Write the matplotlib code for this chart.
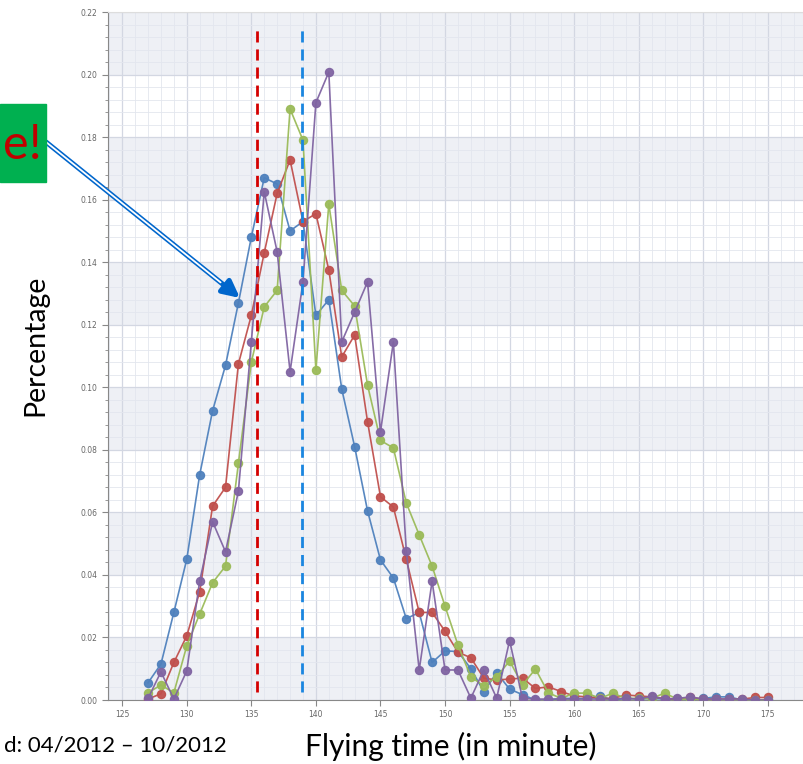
import numpy as np
import matplotlib
matplotlib.use("Agg")
import matplotlib.pyplot as plt
from matplotlib.patches import Rectangle

# flying time in minutes
t = np.arange(127, 176)

blue = [0.0055, 0.0115, 0.028, 0.045, 0.072, 0.0925, 0.107, 0.127, 0.148, 0.167,
        0.165, 0.150, 0.153, 0.123, 0.128, 0.0995, 0.081, 0.0605, 0.0448, 0.039,
        0.026, 0.028, 0.012, 0.0157, 0.0155, 0.010, 0.0027, 0.0087, 0.0035, 0.0017,
        0.0, 0.0, 0.0005, 0.0005, 0.0005, 0.0013, 0.0, 0.0005, 0.0003, 0.0005,
        0.0003, 0.0, 0.0, 0.0005, 0.001, 0.001, 0.0, 0.0, 0.0]
red = [0.0003, 0.002, 0.012, 0.0205, 0.0346, 0.062, 0.068, 0.1075, 0.123, 0.143,
       0.162, 0.1727, 0.153, 0.1555, 0.1375, 0.1097, 0.1167, 0.089, 0.065, 0.0617,
       0.045, 0.028, 0.028, 0.022, 0.0153, 0.0135, 0.007, 0.0064, 0.0067, 0.007,
       0.0037, 0.0042, 0.0027, 0.0013, 0.001, 0.0005, 0.0005, 0.0016, 0.0013, 0.001,
       0.0005, 0.0003, 0.0008, 0.0003, 0.0003, 0.0003, 0.0003, 0.0008, 0.0008]
green = [0.0023, 0.0048, 0.0023, 0.0173, 0.0275, 0.0375, 0.0428, 0.0757, 0.108, 0.1257,
         0.131, 0.189, 0.179, 0.1055, 0.1586, 0.131, 0.126, 0.1007, 0.083, 0.0806,
         0.063, 0.0528, 0.0428, 0.030, 0.0176, 0.0074, 0.0045, 0.0074, 0.0125, 0.0048,
         0.0099, 0.0023, 0.0005, 0.0022, 0.0022, 0.0005, 0.0022, 0.0005, 0.0005, 0.0005,
         0.0022, 0.0003, 0.0003, 0.0, 0.0, 0.0, 0.0, 0.0, 0.0]
purple = [0.0005, 0.009, 0.0003, 0.0093, 0.038, 0.057, 0.0474, 0.0668, 0.1145, 0.1625,
          0.1433, 0.105, 0.1337, 0.191, 0.2008, 0.1145, 0.124, 0.1337, 0.0857, 0.1145,
          0.0477, 0.0096, 0.038, 0.0096, 0.0096, 0.0006, 0.0096, 0.0006, 0.019, 0.0005,
          0.0003, 0.0003, 0.0003, 0.0003, 0.0003, 0.0003, 0.0003, 0.0005, 0.0003, 0.0012,
          0.0003, 0.0005, 0.001, 0.0003, 0.0003, 0.0003, 0.0003, 0.0, 0.0]

series = [(blue, "#4F81BD"), (red, "#C0504D"), (green, "#9BBB59"), (purple, "#8064A2")]

# reference lines (minutes)
red_line = 135.45
blue_line = 138.93

slide_font = "Lato"

fig = plt.figure(figsize=(8.04, 7.64), dpi=100)
ax = fig.add_axes([108/804, 1-700/764, 1-108/804, 688/764])

ax.set_xlim(123.9, 177.8)
ax.set_ylim(0, 0.22)

# alternating bands
for y0 in np.arange(0, 0.22, 0.04):
    ax.axhspan(y0, y0+0.02, color="#EEF0F5", zorder=0, lw=0)

ax.set_xticks(np.arange(125, 176, 5))
ax.set_xticks(np.arange(124, 178, 1), minor=True)
ax.set_yticks(np.arange(0, 0.221, 0.02))
ax.set_yticks(np.arange(0, 0.221, 0.004), minor=True)
ax.set_yticklabels(["{:0.2f}".format(v) for v in np.arange(0, 0.221, 0.02)])
ax.grid(which="major", color="#D3D7E2", lw=0.9, zorder=1)
ax.grid(which="minor", color="#E3E6EE", lw=0.6, zorder=1)
ax.set_axisbelow(True)
ax.tick_params(which="both", labelsize=5.5, labelcolor="#666666", color="#888888")
ax.tick_params(which="major", length=4)
ax.tick_params(axis="y", which="minor", length=2)
ax.tick_params(axis="x", which="minor", length=0)
ax.spines["right"].set_visible(False)
ax.spines["top"].set_color("#DDDDDD")
ax.spines["left"].set_color("#888888")
ax.spines["bottom"].set_color("#888888")

for vals, c in series:
    ax.plot(t, vals, "-o", color=c, lw=1.2, ms=5.8, alpha=0.95, zorder=3)

ax.plot([red_line, red_line], [0.0026, 0.2149], "--", color="#D40000", lw=2, dashes=(4, 2.5), zorder=4)
ax.plot([blue_line, blue_line], [0.0026, 0.2149], "--", color="#1A86E0", lw=2, dashes=(4, 2.5), zorder=4)

# slide annotations around the chart
fig.patches.append(Rectangle((0, 1-182/764), 46/804, 78/764, transform=fig.transFigure,
                             color="#00B050", zorder=5))
fig.text(42/804, 1-145/764, "e!", color="#C00000", fontsize=35, ha="right", va="center",
         family=slide_font, zorder=6)

# double line arrow
p0 = (46/804, 1-142/764)
p1 = (240/804, 1-298/764)
ax.annotate("", xy=p1, xycoords="figure fraction", xytext=p0, textcoords="figure fraction",
            arrowprops=dict(arrowstyle="-|>,head_length=1.0,head_width=0.5", color="#0066CC",
                            lw=3.6, shrinkA=0, shrinkB=0), zorder=7)
q1 = (p0[0] + 0.9*(p1[0]-p0[0]), p0[1] + 0.9*(p1[1]-p0[1]))
ax.annotate("", xy=q1, xycoords="figure fraction", xytext=p0, textcoords="figure fraction",
            arrowprops=dict(arrowstyle="-", color="white", lw=1.3, shrinkA=0, shrinkB=0), zorder=8)

fig.text(35/804, 1-345/764, "Percentage", rotation=90, fontsize=20.5, ha="center", va="center",
         family=slide_font)
fig.text(227/804, 1-746/764, "d: 04/2012 \u2013 10/2012", fontsize=16, ha="right", va="center",
         family=slide_font)
fig.text(305/804, 1-746/764, "Flying time (in minute)", fontsize=21.5, ha="left", va="center",
         family=slide_font)

fig.savefig("out.png", dpi=100)
